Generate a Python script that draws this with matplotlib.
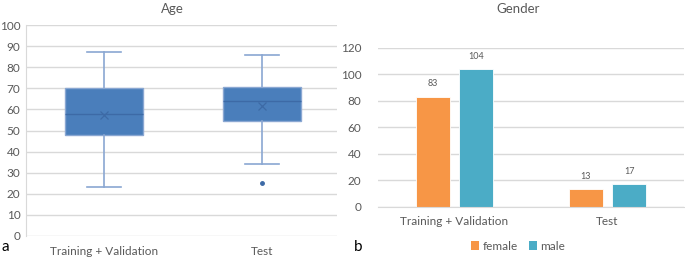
import matplotlib.pyplot as plt
from matplotlib.patches import Patch

plt.rcParams['font.family'] = ['Lato', 'DejaVu Sans']

# Age box plot stats
age_groups = ['Training + Validation', 'Test']
age_q1 = [48, 54.5]
age_med = [58, 64]
age_q3 = [70, 70.5]
age_lo = [23, 34]
age_hi = [87, 86]
age_mean = [57.5, 61.5]
age_fliers = [[], [25]]

# Gender counts
gen_groups = ['Training + Validation', 'Test']
female = [83, 13]
male = [104, 17]

W, H = 685, 258
fig = plt.figure(figsize=(W / 100, H / 100), dpi=100)

grey = '#595959'
grid = '#d9d9d9'
box_fill = '#4a7ebb'
box_edge = '#8aa7d2'
whisk = '#8aa7d2'

def ax_px(l, t, r, b):
    return fig.add_axes([l / W, 1 - b / H, (r - l) / W, (b - t) / H])

# ---- panel a: Age
ax1 = ax_px(26, 25, 337, 236)
stats = []
for i in range(2):
    stats.append(dict(med=age_med[i], q1=age_q1[i], q3=age_q3[i],
                      whislo=age_lo[i], whishi=age_hi[i],
                      mean=age_mean[i], fliers=age_fliers[i]))
ax1.bxp(stats, positions=[1, 2], widths=0.494, patch_artist=True,
        showmeans=True, meanline=False,
        boxprops=dict(facecolor=box_fill, edgecolor=box_edge, linewidth=1),
        medianprops=dict(color='#3d6aa6', linewidth=1),
        whiskerprops=dict(color=whisk, linewidth=1.2),
        capprops=dict(color=whisk, linewidth=1.2),
        capwidths=0.22,
        meanprops=dict(marker='x', markeredgecolor='#3d6aa6', markersize=6, markeredgewidth=0.9),
        flierprops=dict(marker='o', markerfacecolor='#3d6aa6', markeredgecolor='#3d6aa6', markersize=2.5))
ax1.set_xlim(0.506, 2.475)
ax1.set_ylim(0, 100)
ax1.set_yticks(range(0, 101, 10))
ax1.yaxis.grid(True, color=grid, linewidth=1)
ax1.set_axisbelow(True)
for s in ['top', 'right', 'bottom']:
    ax1.spines[s].set_visible(False)
ax1.spines['left'].set_color(grid)
ax1.tick_params(axis='y', length=0, labelsize=8.5, labelcolor=grey, pad=4)
ax1.tick_params(axis='x', length=0, labelsize=8.5, labelcolor=grey, pad=7)
ax1.set_xticks([1, 2])
ax1.set_xticklabels(age_groups)
fig.text(172 / W, 1 - 9 / H, 'Age', ha='center', va='center', fontsize=9.5, color=grey)
fig.text(2 / W, 1 - 247 / H, 'a', ha='left', va='center', fontsize=11, color='black')

# ---- panel b: Gender
ax2 = ax_px(378, 47.7, 684, 206.7)
x = [0, 1]
bw = 0.222
off = 0.143
bars_f = ax2.bar([i - off for i in x], female, width=bw, color='#f79646',
                 edgecolor='white', linewidth=0.6, label='female')
bars_m = ax2.bar([i + off for i in x], male, width=bw, color='#4bacc6',
                 edgecolor='white', linewidth=0.6, label='male')
for bars in (bars_f, bars_m):
    ax2.bar_label(bars, padding=6, fontsize=6.5, color=grey)
ax2.set_xlim(-0.5, 1.5)
ax2.set_ylim(0, 120)
ax2.set_yticks(range(0, 121, 20))
ax2.yaxis.grid(True, color=grid, linewidth=1)
ax2.set_axisbelow(True)
for s in ['top', 'right', 'left']:
    ax2.spines[s].set_visible(False)
ax2.spines['bottom'].set_color(grid)
ax2.tick_params(axis='y', length=0, labelsize=8.5, labelcolor=grey, pad=12)
ax2.tick_params(axis='x', length=0, labelsize=8.5, labelcolor=grey, pad=7)
ax2.set_xticks(x)
ax2.set_xticklabels(gen_groups)
fig.text(518 / W, 1 - 9 / H, 'Gender', ha='center', va='center', fontsize=9.5, color=grey)
fig.text(354 / W, 1 - 247 / H, 'b', ha='left', va='center', fontsize=11, color='black')

handles = [Patch(facecolor='#f79646', label='female'), Patch(facecolor='#4bacc6', label='male')]
fig.legend(handles=handles, loc='center', bbox_to_anchor=(518 / W, 1 - 246 / H), ncol=2,
           frameon=False, fontsize=8.5, labelcolor=grey, handlelength=0.7, handleheight=0.7,
           handletextpad=0.3, columnspacing=0.9)

fig.savefig('out.png', dpi=100)
